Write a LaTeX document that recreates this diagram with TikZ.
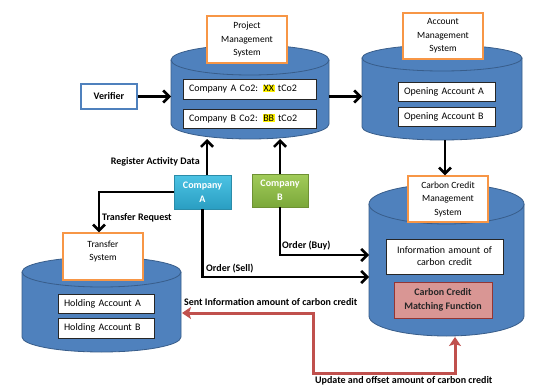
\documentclass[tikz,border=0pt]{standalone}
\usepackage{fontspec}
\setmainfont{Carlito}
\usetikzlibrary{arrows.meta}
\definecolor{cylfill}{HTML}{4F81BD}
\definecolor{cylline}{HTML}{385D8A}
\definecolor{orangeline}{HTML}{F79646}
\definecolor{redline}{HTML}{C0504D}
\definecolor{matchfill}{HTML}{D99694}
\definecolor{matchline}{HTML}{943634}
\definecolor{compAtop}{HTML}{4CC3E4}
\definecolor{compAbot}{HTML}{2A9EC2}
\definecolor{compAline}{HTML}{2A8CA9}
\definecolor{compBtop}{HTML}{A2CC5A}
\definecolor{compBbot}{HTML}{7BA83A}
\definecolor{compBline}{HTML}{6E9133}
\newcommand{\cylinderdraw}[5]{%
  \fill[cylfill] (#1-#4,#2) -- (#1-#4,#3) arc[start angle=180,end angle=360,x radius=#4pt,y radius=#5pt] -- (#1+#4,#2) -- cycle;
  \draw[cylline,line width=0.8pt] (#1-#4,#2) -- (#1-#4,#3) arc[start angle=180,end angle=360,x radius=#4pt,y radius=#5pt] -- (#1+#4,#2);
  \filldraw[fill=cylfill,draw=cylline,line width=0.8pt] (#1,#2) ellipse[x radius=#4pt,y radius=#5pt];
}
\newcommand{\hlx}[1]{{\setlength{\fboxsep}{0.6pt}\colorbox{yellow}{#1}}}
\begin{document}
\begin{tikzpicture}[x=1pt,y=-1pt,font=\fontsize{10}{12}\selectfont,
  cylnode/.style={inner sep=0pt,outer sep=0pt},
  orangebox/.style={draw=orangeline,line width=1.3pt,fill=white,minimum width=80pt,minimum height=47pt,align=center,inner sep=2pt,font=\fontsize{9.5}{13.5}\selectfont},
  innerbox/.style={draw=black!85,line width=0.8pt,fill=white,inner ysep=0pt,inner xsep=6pt,align=left},
  lbl/.style={font=\fontsize{10}{12}\selectfont\bfseries,inner sep=1pt},
  arr/.style={line width=2.6pt,-{Straight Barb[length=6pt,width=12pt]}},
  redarr/.style={line width=3pt,draw=redline,{Stealth[length=9pt,width=12pt,inset=2pt]}-{Stealth[length=9pt,width=12pt,inset=2pt]}},
  compbox/.style={draw=#1line,line width=0.8pt,top color=#1top,bottom color=#1bot,text=white,font=\fontsize{10}{14}\selectfont\bfseries,align=center,inner sep=1pt}
]
\useasboundingbox (0,0) rectangle (535,385);
\fill[white] (0,0) rectangle (535,385);

% cylinders
\cylinderdraw{250}{60}{124}{79}{15}
\node[cylnode,minimum width=158pt,minimum height=94pt] (cyl1) at (250,92) {};
\cylinderdraw{442}{58}{127}{80}{13}
\node[cylnode,minimum width=160pt,minimum height=95pt] (cyl2) at (442,92.5) {};
\cylinderdraw{446.5}{204}{316}{77.5}{20}
\node[cylnode,minimum width=155pt,minimum height=152pt] (cyl3) at (446.5,260) {};
\cylinderdraw{101.5}{272}{337}{79.5}{15}
\node[cylnode,minimum width=159pt,minimum height=95pt] (cyl4) at (101.5,304.5) {};

% orange title boxes
\node[orangebox] (pms) at (247,39.5) {Project\\Management\\System};
\node[orangebox,minimum height=46pt] (ams) at (443,36) {Account\\Management\\System};
\node[orangebox,minimum height=46pt] (ccms) at (448,199) {Carbon Credit\\Management\\System};
\node[orangebox] (ts) at (103,256.5) {};
\node[align=center,inner sep=0pt,font=\fontsize{9.5}{13.5}\selectfont] (tsT) at ([yshift=5pt]ts.center) {Transfer\\System};

% inner boxes
\node[innerbox,text width=121pt,minimum height=20pt] (coA) at (249.5,89) {Company A Co2: \hlx{XX} tCo2};
\node[innerbox,text width=121pt,minimum height=19pt] (coB) at (249.5,118.5) {Company B Co2: \hlx{BB} tCo2};
\node[innerbox,text width=85pt,minimum height=19pt] (oaA) at (446.5,91.5) {Opening Account A};
\node[innerbox,text width=85pt,minimum height=19pt] (oaB) at (446.5,116.5) {Opening Account B};
\node[innerbox,align=center,text width=105pt,minimum height=35pt] (info) at (444.5,256.5) {Information amount of\\carbon credit};
\node[draw=matchline,line width=0.8pt,fill=matchfill,align=center,text=black!85,font=\fontsize{10}{14}\selectfont\bfseries,minimum width=98pt,minimum height=36pt,inner sep=1pt] (match) at (443,300) {Carbon Credit\\Matching Function};
\node[innerbox,text width=84pt,minimum height=19pt] (hoA) at (106,303.5) {Holding Account A};
\node[innerbox,text width=84pt,minimum height=20pt] (hoB) at (106,328) {Holding Account B};

% verifier and companies
\node[draw=cylfill,line width=1.5pt,fill=white,minimum width=56pt,minimum height=25pt,font=\fontsize{10}{12}\selectfont\bfseries] (verifier) at (109,96.5) {Verifier};
\node[compbox=compA,minimum width=57pt,minimum height=34pt] (compA) at (202.5,192) {Company\\A};
\node[compbox=compB,minimum width=56pt,minimum height=33pt] (compB) at (280,190.5) {Company\\B};

% free ends
\coordinate (sellIn) at (369,277);
\coordinate (buyIn) at (369,255);
\coordinate (sentOut) at (182,313);
\coordinate (upIn) at (455,337);

% connectors
\draw[arr] (verifier.east) -- (verifier.east -| cyl1.west);
\draw[arr] (verifier.east -| cyl1.east) -- (verifier.east -| cyl2.west);
\draw[arr] ([xshift=3pt]cyl2.south) -- ([xshift=3pt]cyl2.south |- ccms.north);
\draw[arr] ([xshift=4.5pt]compA.north) -- ([xshift=4.5pt]compA.north |- cyl1.south);
\draw[arr] (compB.north) -- (compB.north |- cyl1.south);
\draw[arr] (compA.west) -| ([xshift=-4pt]ts.north);
\draw[arr] (compA.south) |- (sellIn);
\draw[arr] (compB.south) |- (buyIn);
\draw[redarr] (sentOut) -| ++(131,60) -| (upIn);

% labels
\node[lbl,anchor=east] (lReg) at (201,162) {Register Activity Data};
\node[lbl,anchor=west] (lTr) at (101,218) {Transfer Request};
\node[lbl,anchor=west] (lSell) at (205,269) {Order (Sell)};
\node[lbl,anchor=west] (lBuy) at (281,246) {Order (Buy)};
\node[lbl,anchor=west] (lSent) at (183,302) {Sent Information amount of carbon credit};
\node[lbl,anchor=west] (lUpd) at (314,380.5) {Update and offset amount of carbon credit};
\end{tikzpicture}
\end{document}
